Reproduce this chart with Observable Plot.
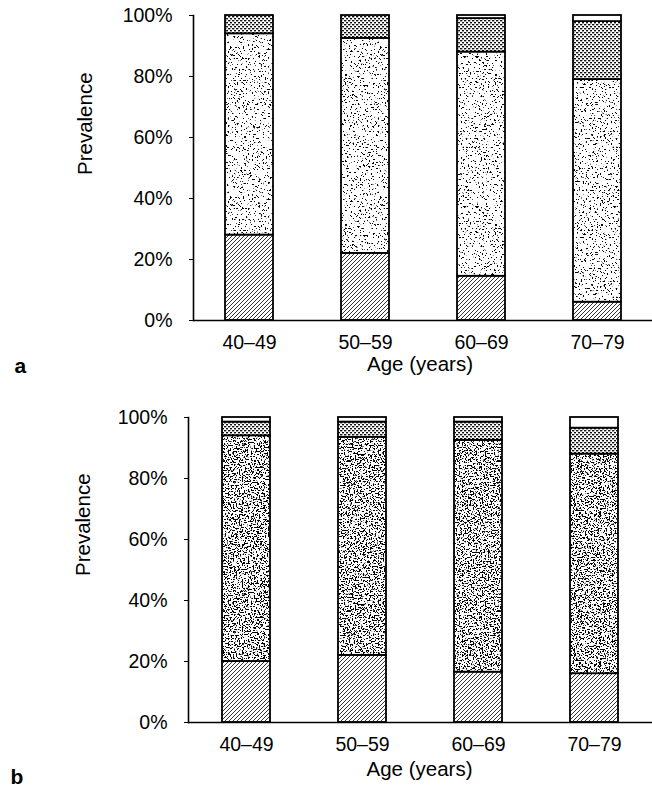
<!DOCTYPE html>
<html>
<head>
<meta charset="utf-8">
<script src="https://cdn.jsdelivr.net/npm/d3@7"></script>
<script src="https://cdn.jsdelivr.net/npm/@observablehq/plot@0.6"></script>
<style>
  html, body { margin: 0; padding: 0; background: white; }
  #chart svg { display: block; }
</style>
</head>
<body>
<svg width="0" height="0" style="position:absolute">
  <defs>
    <pattern id="hatch" patternUnits="userSpaceOnUse" width="4" height="4">
      <rect width="4" height="4" fill="white"/>
      <path d="M-1,1 l2,-2 M0,4 l4,-4 M3,5 l2,-2" stroke="black" stroke-width="0.8"/>
    </pattern>
    <pattern id="dots" patternUnits="userSpaceOnUse" width="4" height="4">
      <rect width="4" height="4" fill="white"/>
      <rect x="0" y="0" width="2.3" height="1.4" fill="#111"/>
      <rect x="2" y="2" width="2.3" height="1.4" fill="#111"/>
    </pattern>
    <filter id="noiseA" x="0" y="0" width="1" height="1">
      <feTurbulence type="fractalNoise" baseFrequency="0.55" numOctaves="3" seed="7"/>
      <feColorMatrix type="matrix" values="0 0 0 0 0  0 0 0 0 0  0 0 0 0 0  -25 0 0 0 9.2"/>
    </filter>
    <filter id="noiseB" x="0" y="0" width="1" height="1">
      <feTurbulence type="fractalNoise" baseFrequency="0.65" numOctaves="3" seed="11"/>
      <feColorMatrix type="matrix" values="0 0 0 0 0  0 0 0 0 0  0 0 0 0 0  -25 0 0 0 11.4"/>
    </filter>
    <pattern id="stipA" patternUnits="userSpaceOnUse" width="150" height="150">
      <rect width="150" height="150" fill="white"/>
      <rect width="150" height="150" filter="url(#noiseA)"/>
    </pattern>
    <pattern id="stipB" patternUnits="userSpaceOnUse" width="150" height="150">
      <rect width="150" height="150" fill="white"/>
      <rect width="150" height="150" filter="url(#noiseB)"/>
    </pattern>
  </defs>
</svg>
<div id="chart"></div>
<script>
// ---- Data ----
const ages = ["40–49", "50–59", "60–69", "70–79"];
const segments = ["hatched", "stippled", "dotted", "open"];
const yTicks = [0, 20, 40, 60, 80, 100];

// Panel a
const aHatched  = [28, 22, 14.5, 6];
const aStippled = [66, 70.5, 73.5, 73];
const aDotted   = [6, 7.5, 11, 19];
const aOpen     = [0, 0, 1, 2];

// Panel b
const bHatched  = [20, 22, 16.5, 16];
const bStippled = [74, 71.5, 76, 72];
const bDotted   = [4.5, 5, 6, 8.5];
const bOpen     = [1.5, 1.5, 1.5, 3.5];

function toRows(series) {
  const rows = [];
  ages.forEach((age, i) => segments.forEach((seg, j) => rows.push({age, seg, value: series[j][i]})));
  return rows;
}

function panel(series, o) {
  return Plot.plot({
    width: 652,
    height: o.height,
    marginTop: o.mt,
    marginBottom: o.mb,
    marginLeft: o.ml,
    marginRight: 0,
    style: {fontFamily: "'Liberation Sans', Arial, sans-serif", fontSize: "19.5px", color: "black", background: "white", overflow: "visible"},
    x: {domain: ages, paddingInner: 0.588, paddingOuter: o.po, tickSize: 0, tickPadding: 15, label: null},
    y: {domain: [0, 100], ticks: yTicks, tickFormat: d => d + "%", tickSize: 4, tickPadding: 17, label: null},
    color: {domain: segments, range: ["url(#hatch)", `url(#${o.stip})`, "url(#dots)", "white"]},
    marks: [
      Plot.barY(toRows(series), {x: "age", y: "value", fill: "seg", stroke: "black", strokeWidth: 1.8, order: segments}),
      Plot.frame({anchor: "left", strokeWidth: 1.6}),
      Plot.ruleY([0], {strokeWidth: 1.6, dx: 0}),
      Plot.text(["Age (years)"], {frameAnchor: "bottom", dx: o.ageDx, dy: o.ageDy, fontSize: 20.5}),
      Plot.text(["Prevalence"], {frameAnchor: "left", rotate: -90, dx: o.prevDx, dy: o.prevDy, fontSize: 20.5}),
      Plot.text([o.tag], {frameAnchor: "bottom-left", dx: o.tagDx, dy: o.tagDy, fontSize: 21, fontWeight: "bold"})
    ]
  });
}

const chart = document.getElementById("chart");
chart.append(panel([aHatched, aStippled, aDotted, aOpen], {
  height: 390, mt: 15, mb: 70, ml: 193, po: 0.267, stip: "stipA",
  ageDx: -3, ageDy: 50, prevDx: -108, prevDy: 7, tag: "a", tagDx: -179, tagDy: 52
}));
chart.append(panel([bHatched, bStippled, bDotted, bOpen], {
  height: 401, mt: 27, mb: 69, ml: 188, po: 0.288, stip: "stipB",
  ageDx: -1, ageDy: 53, prevDx: -105, prevDy: 6, tag: "b", tagDx: -178, tagDy: 61
}));
</script>
</body>
</html>
